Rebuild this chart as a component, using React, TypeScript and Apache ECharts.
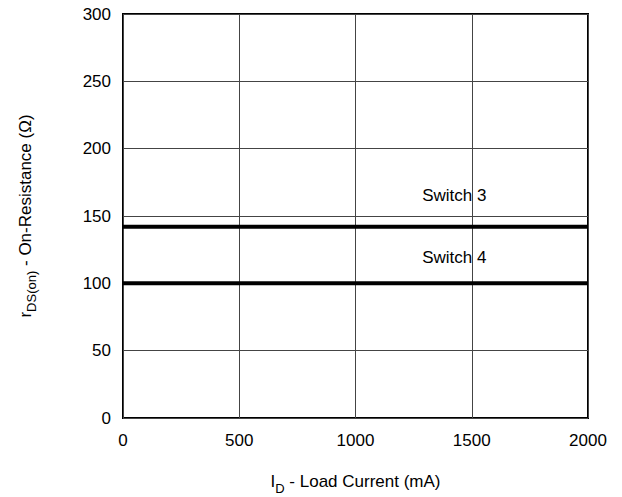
import React, { useEffect, useRef } from "react";
import * as echarts from "echarts";

const xRange = [0, 2000];
const switch3Values = [142, 142];
const switch4Values = [100, 100];
const labelNames = ["Switch 3", "Switch 4"];
const labelPositions = [
  [1425, 165.5],
  [1425, 119.5],
];

const FONT = "Liberation Sans, Arial, Helvetica, sans-serif";

export default function App() {
  const ref = useRef<HTMLDivElement>(null);
  useEffect(() => {
    if (!ref.current) return;
    const chart = echarts.init(ref.current, undefined, { renderer: "svg" });
    const lineStyle = { color: "#000", width: 4 };
    chart.setOption({
      animation: false,
      backgroundColor: "#fff",
      textStyle: { fontFamily: FONT },
      grid: {
        left: 123,
        top: 14,
        right: 34,
        bottom: 79,
        show: true,
        borderColor: "#000",
        borderWidth: 2,
        backgroundColor: "transparent",
        containLabel: false,
        outerBoundsMode: "none",
      },
      xAxis: {
        type: "value",
        min: 0,
        max: 2000,
        interval: 500,
        axisLine: { show: false },
        axisTick: { show: false },
        splitLine: { show: true, lineStyle: { color: "#444", width: 1 } },
        axisLabel: {
          color: "#000",
          fontSize: 17,
          margin: 14,
          fontFamily: FONT,
          formatter: (v: number) => String(v),
        },
        name: "{n|I}{s|D}{n| - Load Current (mA)}",
        nameLocation: "middle",
        nameGap: 55,
        nameTextStyle: {
          fontFamily: FONT,
          rich: {
            n: { fontSize: 17, color: "#000", fontFamily: FONT, verticalAlign: "top", lineHeight: 20 },
            s: { fontSize: 13, color: "#000", fontFamily: FONT, padding: [9, 0, 0, 0], verticalAlign: "top", lineHeight: 16 },
          },
        },
      },
      yAxis: {
        type: "value",
        min: 0,
        max: 300,
        interval: 50,
        axisLine: { show: false },
        axisTick: { show: false },
        splitLine: { show: true, lineStyle: { color: "#444", width: 1 } },
        axisLabel: { color: "#000", fontSize: 17, margin: 12, fontFamily: FONT },
        name: "{n|r}{s|DS(on)}{n| - On-Resistance (Ω)}",
        nameLocation: "middle",
        nameGap: 86,
        nameRotate: 90,
        nameTextStyle: {
          fontFamily: FONT,
          rich: {
            n: { fontSize: 17, color: "#000", fontFamily: FONT, verticalAlign: "top", lineHeight: 20 },
            s: { fontSize: 13, color: "#000", fontFamily: FONT, padding: [8, 0, 0, 0], verticalAlign: "top", lineHeight: 16 },
          },
        },
      },
      series: [
        {
          type: "line",
          data: xRange.map((x, i) => [x, switch3Values[i]]),
          symbol: "none",
          lineStyle,
          itemStyle: { color: "#000" },
        },
        {
          type: "line",
          data: xRange.map((x, i) => [x, switch4Values[i]]),
          symbol: "none",
          lineStyle,
          itemStyle: { color: "#000" },
        },
        {
          type: "scatter",
          symbolSize: 0,
          itemStyle: { color: "#000", opacity: 1 },
          data: labelNames.map((n, i) => ({ name: n, value: labelPositions[i] })),
          label: {
            show: true,
            position: "inside",
            formatter: "{b}",
            color: "#000",
            fontSize: 17,
            fontFamily: FONT,
            textBorderWidth: 0,
            opacity: 1,
          },
          silent: true,
        },
      ],
    });
    return () => chart.dispose();
  }, []);
  return (
    <div ref={ref} style={{ position: "absolute", left: 0, top: 0, width: 622, height: 497, background: "#fff" }} />
  );
}
